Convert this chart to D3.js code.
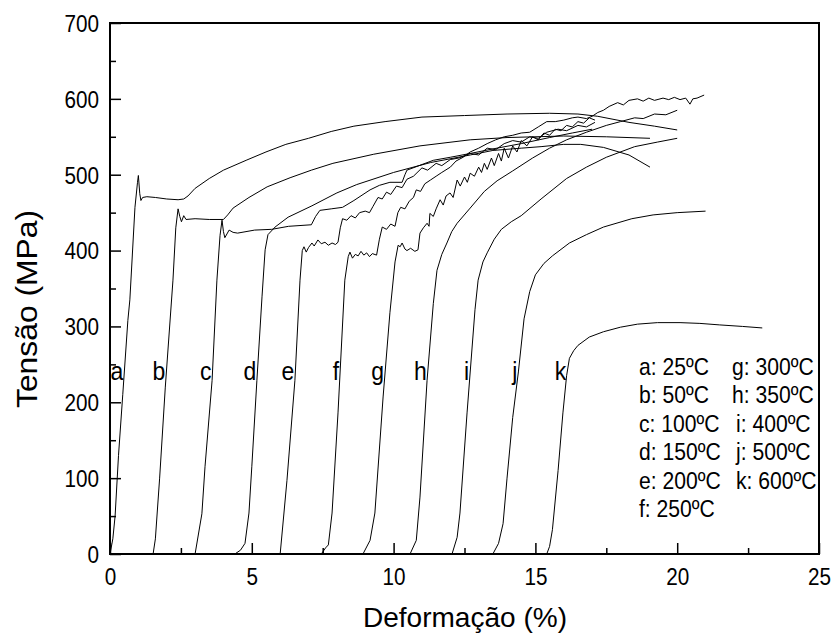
<!DOCTYPE html>
<html><head><meta charset="utf-8">
<script src="https://cdn.jsdelivr.net/npm/d3@7"></script>
<style>
body{margin:0;background:#fff}
svg{display:block}
text{font-family:"Liberation Sans",Arial,Helvetica,sans-serif;fill:#000}
</style>
</head><body>
<svg id="chart" width="835" height="642"></svg>
<script>
// ---------- data ----------
const xTicks = [0, 5, 10, 15, 20, 25];
const xMinorTicks = [2.5, 7.5, 12.5, 17.5, 22.5];
const yTicks = [0, 100, 200, 300, 400, 500, 600, 700];
const yMinorTicks = [50, 150, 250, 350, 450, 550, 650];
const curveLetters = ["a","b","c","d","e","f","g","h","i","j","k"];
const legendCol1 = ["a: 25ºC","b: 50ºC","c: 100ºC","d: 150ºC","e: 200ºC","f: 250ºC"];
const legendCol2 = ["g: 300ºC","h: 350ºC","i: 400ºC","j: 500ºC","k: 600ºC"];
const xTitle = "Deformação (%)";
const yTitle = "Tensão (MPa)";

const curveA = [[0,0],[0.1,20],[0.18,50],[0.3,130],[0.45,210],[0.63,308],[0.7,335],[0.88,457],[0.97,490],[1.0,499],[1.05,475],[1.09,466],[1.15,470],[1.3,471],[1.6,470],[2.0,468],[2.4,467],[2.6,468],[2.75,472],[3.0,482],[3.5,495],[4.0,506],[4.8,519],[5.5,530],[6.2,540],[7.0,548],[7.8,557],[8.6,564],[9.7,570],[11.0,576],[12.5,578],[14.0,580],[15.5,581],[16.5,580],[17.2,577],[18.3,569],[19.2,564],[20.0,559]];
const curveB = [[1.52,0],[1.6,20],[1.75,100],[1.95,220],[2.22,361],[2.32,430],[2.4,455],[2.46,445],[2.52,438],[2.6,446],[2.68,441],[3.0,442],[3.5,441],[4.0,441],[4.15,447],[4.34,456],[4.9,470],[5.54,484],[6.35,496],[7.1,506],[7.86,515],[9.3,527],[10.93,538],[12.7,546],[14.0,549],[16.0,551],[17.5,550],[19.04,548]];
const curveC = [[3.0,0],[3.24,53],[3.35,115],[3.6,229],[3.77,361],[3.88,420],[3.95,440],[4.0,425],[4.05,417],[4.2,427],[4.34,424],[4.5,423],[5.1,427],[5.7,428],[6.3,432],[7.1,434],[7.25,445],[7.4,453],[7.8,455],[8.2,457],[8.6,466],[9.17,480],[9.5,486],[9.87,490],[10.3,490],[10.4,500],[10.47,506],[10.9,512],[11.4,519],[12.0,523],[12.7,528],[13.5,534],[14.5,541],[15.5,549],[16.3,555],[17.0,560]];
const curveD = [[4.4,0],[4.6,5],[4.76,14],[4.9,54],[5.0,115],[5.18,229],[5.36,339],[5.47,401],[5.57,421],[5.82,431],[6.28,444],[7.12,459],[8.0,476],[8.7,487],[10.0,503],[11.3,516],[12.7,526],[13.5,532],[14.5,535],[15.2,537],[16.0,540],[16.6,540],[17.4,536],[18.3,526],[19.04,510]];
const curveE = [[6.0,0],[6.24,97],[6.52,229],[6.7,361],[6.78,400],[6.84,405],[6.92,398],[7.0,404],[7.12,410],[7.2,406],[7.33,414],[7.45,409],[7.58,411],[7.7,407],[7.83,410],[7.95,408],[8.04,411],[8.12,430],[8.2,442],[8.35,440],[8.5,446],[8.65,443],[8.8,450],[9.0,452],[9.15,450],[9.27,458],[9.45,470],[9.6,468],[9.75,477],[9.9,474],[10.1,485],[10.3,483],[10.47,494],[10.7,498],[11.0,509],[11.2,506],[11.5,515],[11.7,512],[12.0,520],[12.3,522],[12.7,528],[13.0,526],[13.3,535],[13.6,533],[13.9,541],[14.2,545],[14.5,543],[14.8,550],[15.1,548],[15.4,556],[15.8,560],[16.1,558],[16.5,565],[16.8,563],[17.1,569]];
const curveF = [[7.45,0],[7.6,8],[7.7,12],[7.83,54],[8.04,186],[8.28,361],[8.4,392],[8.46,398],[8.55,390],[8.65,395],[8.75,393],[8.85,399],[8.95,394],[9.05,397],[9.15,392],[9.25,396],[9.4,394],[9.5,415],[9.6,431],[9.75,428],[9.9,435],[10.05,432],[10.15,450],[10.25,457],[10.4,455],[10.55,465],[10.7,470],[10.8,480],[10.95,478],[11.1,488],[11.3,493],[11.5,498],[11.7,503],[12.0,510],[12.2,518],[12.45,523],[12.7,530],[13.0,535],[13.3,541],[13.6,546],[13.9,550],[14.2,552],[14.5,555],[14.8,556],[15.1,563],[15.4,570],[15.7,570],[16.0,572],[16.3,575],[16.5,576],[16.8,574],[17.0,577],[17.2,582],[17.4,585],[17.6,590],[17.9,595],[18.1,592],[18.3,598],[18.6,600],[18.8,597],[19.0,601],[19.2,598],[19.5,601],[19.7,599],[19.9,602],[20.1,599],[20.3,601],[20.45,593],[20.55,600],[20.7,601],[20.95,605]];
const curveG = [[8.92,0],[9.17,18],[9.34,54],[9.63,207],[9.87,318],[10.05,385],[10.16,407],[10.23,405],[10.3,410],[10.4,402],[10.47,400],[10.6,403],[10.75,399],[10.86,401],[10.93,423],[11.05,430],[11.18,436],[11.25,432],[11.28,449],[11.4,445],[11.5,455],[11.64,467],[11.75,460],[11.85,472],[11.99,476],[12.1,470],[12.24,493],[12.35,485],[12.5,497],[12.6,490],[12.7,502],[12.85,498],[13.0,510],[13.1,503],[13.2,515],[13.3,507],[13.45,522],[13.55,512],[13.7,528],[13.8,518],[13.9,535],[14.05,522],[14.2,538],[14.35,530],[14.5,545],[14.7,538],[14.9,550],[15.1,546],[15.3,555],[15.5,552],[15.7,560],[15.9,558],[16.1,565],[16.3,563],[16.5,570],[16.7,568],[16.9,575],[17.1,572]];
const curveH = [[10.58,0],[10.8,18],[10.93,75],[11.18,229],[11.4,330],[11.53,374],[11.7,395],[11.88,410],[12.05,425],[12.24,436],[12.7,456],[13.2,478],[13.65,492],[14.2,505],[14.9,522],[15.5,535],[16.1,546],[16.8,556],[17.5,565],[18.0,570],[18.5,575],[18.8,574],[19.2,580],[19.6,579],[20.0,585]];
const curveI = [[12.06,0],[12.24,22],[12.34,54],[12.59,186],[12.87,322],[12.98,361],[13.15,385],[13.3,397],[13.55,415],[13.8,428],[14.15,438],[14.5,446],[15.2,468],[16.1,495],[16.8,510],[17.5,523],[18.5,537],[19.3,543],[20.0,548]];
const curveJ = [[13.5,0],[13.7,14],[13.86,40],[14.0,100],[14.2,180],[14.4,240],[14.6,310],[14.8,346],[15.0,368],[15.3,383],[15.6,393],[16.2,410],[16.8,421],[17.4,431],[18.4,442],[19.15,447],[20.0,450],[21.0,452]];
const curveK = [[15.4,0],[15.5,10],[15.6,32],[15.8,110],[15.97,186],[16.1,235],[16.2,258],[16.35,268],[16.5,275],[16.9,286],[17.4,293],[18.0,299],[18.6,303],[19.3,305],[20.1,305],[20.8,304],[21.5,302],[22.3,300],[23.0,298]];
const curves = [curveA,curveB,curveC,curveD,curveE,curveF,curveG,curveH,curveI,curveJ,curveK];

// ---------- layout ----------
const L = 110, R = 819, T = 23, B = 554;
const svg = d3.select("#chart");
const x = d3.scaleLinear().domain([0,25]).range([L,R]);
const y = d3.scaleLinear().domain([0,700]).range([B,T]);
const SX = 0.9; // horizontal condensing of small text

// curves
const line = d3.line().x(d=>x(d[0])).y(d=>y(d[1]));
svg.append("g").selectAll("path").data(curves).join("path")
  .attr("d", line).attr("fill","none").attr("stroke","#000").attr("stroke-width",1);

// axes
function styleAxis(g){
  g.select(".domain").remove();
  g.selectAll("line").attr("stroke","#000").attr("stroke-width",1.5);
  g.selectAll("text").attr("font-size",23).attr("fill","#000");
}
const gx = svg.append("g").attr("transform",`translate(0,${B})`)
  .call(d3.axisBottom(x).tickValues(xTicks).tickSizeInner(-11).tickSizeOuter(0).tickPadding(12).tickFormat(d3.format("d")));
styleAxis(gx);
gx.selectAll("text").attr("dy",null).attr("y",31).attr("transform",`scale(${SX},1)`);
const gxm = svg.append("g").attr("transform",`translate(0,${B})`)
  .call(d3.axisBottom(x).tickValues(xMinorTicks).tickSizeInner(-6).tickSizeOuter(0).tickFormat(""));
styleAxis(gxm);

const gy = svg.append("g").attr("transform",`translate(${L},0)`)
  .call(d3.axisLeft(y).tickValues(yTicks).tickSizeInner(-11).tickSizeOuter(0).tickPadding(11).tickFormat(d3.format("d")));
styleAxis(gy);
gy.selectAll("text").attr("x",-11/SX).attr("dy","0.36em").attr("transform",`scale(${SX},1)`);
const gym = svg.append("g").attr("transform",`translate(${L},0)`)
  .call(d3.axisLeft(y).tickValues(yMinorTicks).tickSizeInner(-6).tickSizeOuter(0).tickFormat(""));
styleAxis(gym);

// frame
svg.append("rect").attr("x",L).attr("y",T).attr("width",R-L).attr("height",B-T)
  .attr("fill","none").attr("stroke","#000").attr("stroke-width",2);

// helper for condensed text
function ctext(px, py, s, anchor, size, sx){
  svg.append("text").attr("transform",`translate(${px},${py}) scale(${sx||SX},1)`)
    .attr("text-anchor",anchor||"start").attr("font-size",size||23).text(s);
}

// curve letters: placed just left of each curve where it crosses 240 MPa
const labelStress = 240;
curves.forEach((c,i)=>{
  let xc = c[0][0];
  for (let k=1;k<c.length;k++){
    if (c[k][1] >= labelStress){
      const p=c[k-1], q=c[k];
      xc = p[0] + (labelStress-p[1])/(q[1]-p[1])*(q[0]-p[0]);
      break;
    }
  }
  ctext(x(xc)-1, 380, curveLetters[i], "end", 25, 0.92);
});

// legend
legendCol1.forEach((s,i)=> ctext(639, 375 + i*28.4, s, "start", 24, 0.88));
legendCol2.forEach((s,i)=> ctext(i<2?732:736, 375 + i*28.4, s, "start", 24, 0.88));

// titles
svg.append("text").attr("x",465).attr("y",627).attr("text-anchor","middle")
  .attr("font-size",28).attr("textLength",204).attr("lengthAdjust","spacingAndGlyphs").text(xTitle);
svg.append("text").attr("transform","translate(37,309) rotate(-90)").attr("text-anchor","middle")
  .attr("font-size",30).attr("textLength",198).attr("lengthAdjust","spacingAndGlyphs").text(yTitle);
</script>
</body></html>
